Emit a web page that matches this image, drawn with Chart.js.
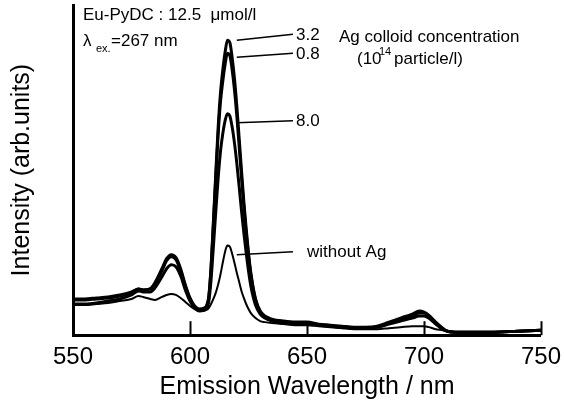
<!DOCTYPE html>
<html>
<head>
<meta charset="utf-8">
<script src="https://cdn.jsdelivr.net/npm/chart.js@4.4.1/dist/chart.umd.min.js"></script>
<style>
  html, body { margin: 0; padding: 0; background: #fff; }
  canvas { display: block; }
</style>
</head>
<body>
<canvas id="spectrum" width="564" height="405"></canvas>
<script>
// emission wavelength (nm)
var wavelengths = [550,555,560,565,570,575,578,580,583,585,588,590,592,594,596,598,600,602,
  604,606,607,608,609,610,611,612,613,614,615,616,617,618,619,620,621,622,623,624,625,626,
  628,630,632,635,640,645,650,655,660,665,670,675,680,685,690,695,698,700,702,705,708,710,
  715,720,730,740,750];

// intensity (arb. units)
var ag32 = [35,35,36,37,39,42,46,45,46,52,66,76,80,77,66,50,37,29,
  26,27,29,38,68,113,160,205,240,263,281,293,291,276,255,228,196,164,133,106,82,62,
  36,24,19,16,14,13,13,11,10,9,8,8,9,13,17,21,24,23,20,13,7,4,
  3,3,3,4,5];
var ag08 = [36,36,37,38,40,43,46,45,46,51,64,74,78,75,64,49,36,28,
  25,26,28,37,66,110,155,198,231,252,269,280,278,264,244,218,188,157,128,102,79,60,
  35,23,18,15,13,12,12,10,9,8,7,7,8,12,16,19,22,22,19,12,6,4,
  3,3,3,4,5];
var ag80 = [31,31,32,34,36,40,44,43,43,47,58,66,70,68,59,45,34,27,
  24,25,27,33,55,88,122,155,182,200,213,220,218,207,191,171,148,124,102,82,64,49,
  30,21,17,14,12,11,11,10,9,8,7,7,8,11,14,17,19,19,17,11,6,4,
  3,3,3,4,5];
var noAg = [30,30,31,32,34,36,39,38,36,35,38,40,41,40,37,33,29,26,
  24,24,25,27,31,36,42,50,60,72,83,89,88,81,72,62,53,44,37,31,26,22,
  17,14,13,12,11,10,10,9,8,7,6,6,6,7,8,9,9,9,8,6,5,4,
  3,3,3,4,5];

var xTicks = [550, 600, 650, 700, 750];

function points(values) {
  return wavelengths.map(function (w, i) { return { x: w, y: values[i] }; });
}

function series(label, values, width) {
  return {
    label: label,
    data: points(values),
    borderColor: '#000',
    borderWidth: width,
    pointRadius: 0,
    fill: false,
    cubicInterpolationMode: 'monotone'
  };
}

var FONT = 'Arial, "Liberation Sans", Helvetica, sans-serif';

// inward tick marks on the wavelength axis
var innerTicks = {
  id: 'innerTicks',
  afterDraw: function (chart) {
    var ctx = chart.ctx, xs = chart.scales.x, bottom = chart.chartArea.bottom;
    ctx.save();
    ctx.strokeStyle = '#000';
    ctx.lineWidth = 2;
    xTicks.slice(1).forEach(function (v) {
      var px = Math.round(xs.getPixelForValue(v)) + 0.5;
      ctx.beginPath();
      ctx.moveTo(px, bottom);
      ctx.lineTo(px, bottom - 14);
      ctx.stroke();
    });
    ctx.restore();
  }
};

// labels and leader lines
var notes = {
  id: 'notes',
  afterDatasetsDraw: function (chart) {
    var ctx = chart.ctx, xs = chart.scales.x, ys = chart.scales.y;
    ctx.save();
    ctx.fillStyle = '#000';
    ctx.strokeStyle = '#000';
    ctx.lineWidth = 1.5;
    ctx.textBaseline = 'middle';
    ctx.textAlign = 'left';

    function leader(y0, y1, text, tx) {
      var x0 = xs.getPixelForValue(620), x1 = xs.getPixelForValue(644);
      ctx.beginPath();
      ctx.moveTo(x0, ys.getPixelForValue(y0));
      ctx.lineTo(x1, ys.getPixelForValue(y1));
      ctx.stroke();
      ctx.font = '17px ' + FONT;
      ctx.fillText(text, tx, ys.getPixelForValue(y1) + 1);
    }
    leader(293, 299, '3.2', 296);
    leader(276, 280, '0.8', 296);
    leader(211, 213, '8.0', 296);
    leader(80, 83, 'without Ag', 307);

    ctx.font = '17px ' + FONT;
    ctx.fillText('Eu-PyDC : 12.5  \u03bcmol/l', 83, 15);
    ctx.fillText('\u03bb', 83, 41);
    ctx.font = '11px ' + FONT;
    ctx.fillText('ex.', 96, 49);
    ctx.font = '17px ' + FONT;
    ctx.fillText('=267 nm', 111, 41);

    ctx.fillText('Ag colloid concentration', 339, 37);
    ctx.fillText('(10', 357, 59);
    ctx.font = '11px ' + FONT;
    ctx.fillText('14', 379, 52);
    ctx.font = '17px ' + FONT;
    ctx.fillText('particle/l)', 394, 59);
    ctx.restore();
  }
};

new Chart(document.getElementById('spectrum').getContext('2d'), {
  type: 'line',
  data: {
    datasets: [
      series('3.2', ag32, 3),
      series('0.8', ag08, 3),
      series('8.0', ag80, 3),
      series('without Ag', noAg, 2)
    ]
  },
  options: {
    responsive: false,
    animation: false,
    layout: { padding: { top: 5, right: 18, left: 0, bottom: 0 } },
    plugins: { legend: { display: false }, tooltip: { enabled: false } },
    scales: {
      x: {
        type: 'linear',
        min: 550,
        max: 750,
        afterBuildTicks: function (scale) {
          scale.ticks = xTicks.map(function (v) { return { value: v }; });
        },
        grid: { display: false, drawTicks: true, tickLength: 5 },
        border: { display: true, color: '#000', width: 3 },
        ticks: { color: '#000', padding: 3, font: { size: 24, family: FONT } },
        title: {
          display: true,
          text: 'Emission Wavelength / nm',
          color: '#000',
          font: { size: 25, family: FONT },
          padding: { top: -3, bottom: 3 }
        }
      },
      y: {
        min: 0,
        max: 328,
        grid: { display: false, drawTicks: false },
        border: { display: true, color: '#000', width: 3 },
        ticks: { display: false },
        title: {
          display: true,
          text: 'Intensity (arb.units)',
          color: '#000',
          font: { size: 25, family: FONT },
          padding: { top: 7, bottom: 36 }
        }
      }
    }
  },
  plugins: [innerTicks, notes]
});
</script>
</body>
</html>
